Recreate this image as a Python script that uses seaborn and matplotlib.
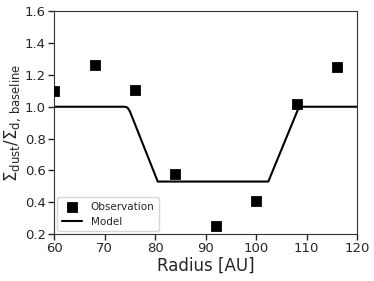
import numpy as np
import pandas as pd
import seaborn as sns
import matplotlib
matplotlib.use("Agg")
import matplotlib.pyplot as plt

# observed surface density ratio
obs_radius = [60, 68, 76, 84, 92, 100, 108, 116]
obs_ratio = [1.10, 1.265, 1.105, 0.58, 0.25, 0.41, 1.015, 1.25]

# model gap profile
model_radius = [60, 74.0, 74.5, 75.0, 80.5, 102.4, 108.3, 108.8, 120]
model_ratio = [1.0, 1.0, 0.995, 0.97, 0.53, 0.53, 0.985, 1.0, 1.0]

obs = pd.DataFrame({"radius": obs_radius, "ratio": obs_ratio})
model = pd.DataFrame({"radius": model_radius, "ratio": model_ratio})

sns.set_style("ticks")
plt.rcParams['font.family'] = ['DejaVu Sans']

fig, ax = plt.subplots(figsize=(3.74, 2.81), dpi=100)
sns.scatterplot(data=obs, x="radius", y="ratio", marker="s", s=55, color="black",
                edgecolor="black", label="Observation", ax=ax, zorder=3)
sns.lineplot(data=model, x="radius", y="ratio", color="black", lw=1.5,
             label="Model", ax=ax, sort=False)

ax.set_xlim(60, 120)
ax.set_ylim(0.2, 1.6)
ax.set_xticks(np.arange(60, 121, 10))
ax.set_yticks(np.arange(0.2, 1.61, 0.2))
ax.tick_params(labelsize=9.5, length=4, width=1, pad=2)
ax.set_xlabel("Radius [AU]", fontsize=12, labelpad=1)
ax.set_ylabel(r"$\Sigma_{\rm dust}/\Sigma_{\rm d,\,baseline}$", fontsize=12, labelpad=1)
for sp in ax.spines.values():
    sp.set_color("#333333")
ax.legend(loc="lower left", fontsize=7.5, frameon=True, borderaxespad=0.3)

fig.subplots_adjust(left=0.145, right=0.955, top=0.96, bottom=0.167)
fig.savefig("out.png", dpi=100)
